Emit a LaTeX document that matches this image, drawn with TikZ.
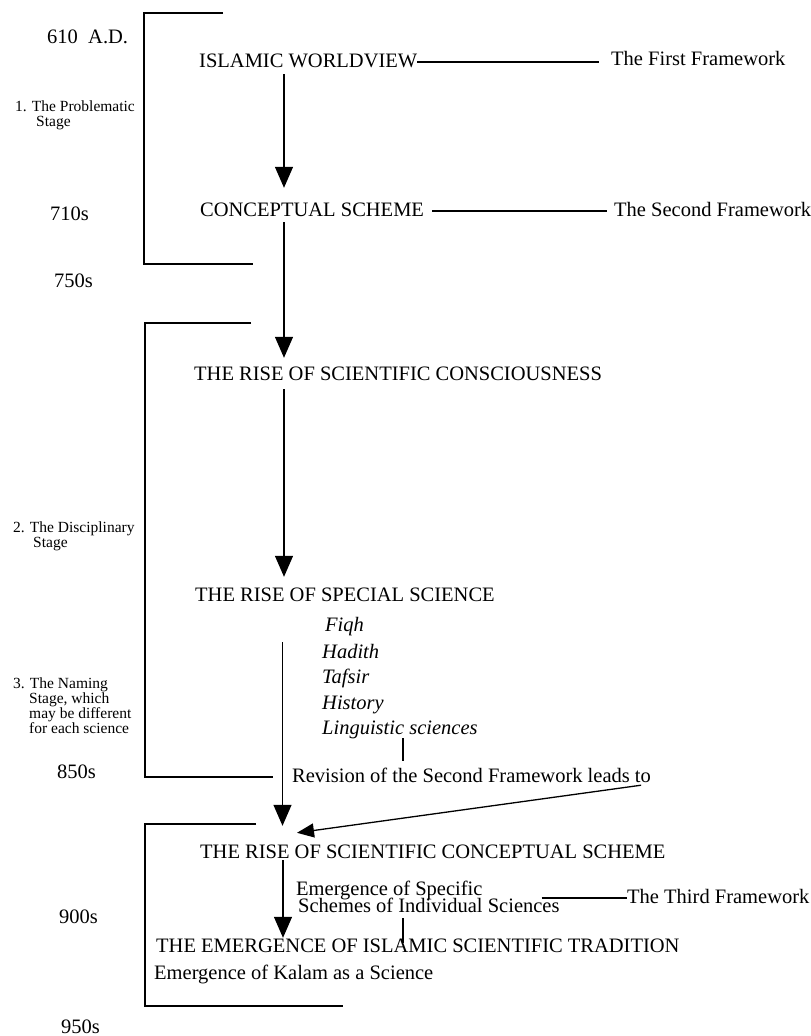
\documentclass[tikz,border=0pt]{standalone}
\usepackage{fontspec}
\setmainfont{Liberation Serif}
\usetikzlibrary{arrows.meta,calc}
\begin{document}
\begin{tikzpicture}[x=1pt,y=-1pt,
 txt/.style={anchor=base west,inner sep=0pt,font=\fontsize{20.5}{24}\selectfont,text height=14pt,text depth=4pt},
 itl/.style={txt,font=\fontsize{20.5}{24}\selectfont\itshape},
 small/.style={anchor=base west,inner sep=0pt,font=\fontsize{15.5}{18}\selectfont},
 bracket/.style={line width=1.3pt},
 conn/.style={line width=1.3pt},
 arr/.style={conn,-{Triangle[width=18pt,length=21pt]}},
 darr/.style={conn,-{Triangle[width=14pt,length=17pt]}}]
\useasboundingbox (0,0) rectangle (811,1036);
\fill[white] (0,0) rectangle (811,1036);
% axis coordinates
\coordinate (ax) at (284,0);
\coordinate (bx) at (282.5,0);
\coordinate (cx) at (283,0);
\coordinate (lx) at (403,0);
% dates and stages
\node[txt] (d610) at (47,43) {610~~A.D.};
\node[small] (s1a) at (15,111) {1. The Problematic};
\node[small] (s1b) at (36,126) {Stage};
\node[txt] (d710) at (50,220) {710s};
\node[txt] (d750) at (54,287) {750s};
\node[small] (s2a) at (13,532) {2. The Disciplinary};
\node[small] (s2b) at (33,547) {Stage};
\node[small] (s3a) at (13,688) {3. The Naming};
\node[small] (s3b) at (29,703) {Stage, which};
\node[small] (s3c) at (29,718) {may be different};
\node[small] (s3d) at (29,733) {for each science};
\node[txt] (d850) at (57,778) {850s};
\node[txt] (d900) at (59,923) {900s};
\node[txt] (d950) at (61,1033) {950s};
% brackets
\draw[bracket] (223,13) -- (144,13) -- (144,264) -- (253,264);
\draw[bracket] (251,323) -- (145,323) -- (145,777) -- (273,777);
\draw[bracket] (256,824) -- (145,824) -- (145,1006) -- (343,1006);
% main texts
\node[txt] (iw) at (199,67) {ISLAMIC WORLDVIEW};
\node[txt] (ff) at (611,65) {The First Framework};
\node[txt] (cs) at (200,216) {CONCEPTUAL SCHEME};
\node[txt] (sf) at (614,216) {The Second Framework};
\node[txt] (rsc) at (194,380) {THE RISE OF SCIENTIFIC CONSCIOUSNESS};
\node[txt] (rss) at (195,601) {THE RISE OF SPECIAL SCIENCE};
\node[itl] (fiqh) at (325,631) {Fiqh};
\node[itl] (hadith) at (322,658) {Hadith};
\node[itl] (tafsir) at (322,683) {Tafsir};
\node[itl] (history) at (322,709) {History};
\node[itl] (ling) at (322,734) {Linguistic sciences};
\node[txt] (rev) at (292,782) {Revision of the Second Framework leads to};
\node[txt] (rscs) at (200,858) {THE RISE OF SCIENTIFIC CONCEPTUAL SCHEME};
\node[txt] (es1) at (296,895) {Emergence of Specific};
\node[txt] (es2) at (298,912) {Schemes of Individual Sciences};
\node[txt] (tf) at (627,903) {The Third Framework};
\node[txt] (emg) at (156,952) {THE EMERGENCE OF ISLAMIC SCIENTIFIC TRADITION};
\node[txt] (kal) at (154,979) {Emergence of Kalam as a Science};
% connectors
\draw[conn,shorten >=12pt] (iw.east) -- (ff.west |- iw.east);
\draw[conn,shorten <=8pt,shorten >=7pt] (cs.east) -- (sf.west |- cs.east);
\draw[conn,shorten <=-18pt] (es2.east |- tf.west) -- (tf.west);
\draw[arr,shorten <=3pt,shorten >=14pt] (iw.south -| ax) -- (cs.north -| ax);
\draw[arr,shorten <=2pt,shorten >=8pt] (cs.south -| ax) -- (rsc.north -| ax);
\draw[arr,shorten <=5pt,shorten >=10pt] (rsc.south -| ax) -- (rss.north -| ax);
\draw[arr,shorten <=37pt,shorten >=18pt] (rss.south -| bx) -- (rscs.north -| bx);
\draw[arr,shorten <=-2pt] (rscs.south -| cx) -- (emg.north -| cx);
\draw[darr] ($(rev.south east)+(-10,-1)$) -- ($(rscs.north west)+(97,-11)$);
\draw[conn,shorten >=7pt] (ling.south -| lx) -- (rev.north -| lx);
\draw[conn,shorten <=2pt,shorten >=-5pt] (es2.south -| lx) -- (emg.north -| lx);
\end{tikzpicture}
\end{document}
